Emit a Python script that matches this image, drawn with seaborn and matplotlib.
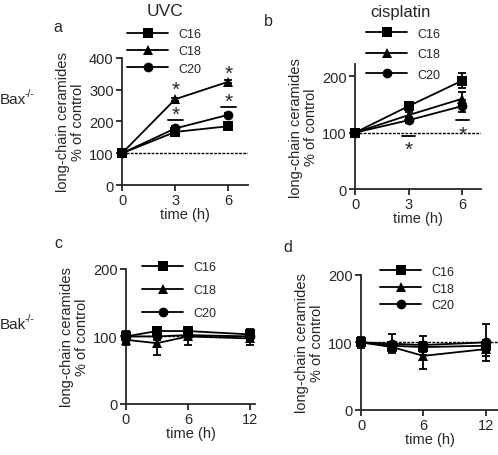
import pandas as pd
import matplotlib
matplotlib.use('Agg')
import matplotlib.pyplot as plt
import seaborn as sns

sns.set_style('ticks')
plt.rcParams['font.family'] = ['Liberation Sans', 'DejaVu Sans']
plt.rcParams['font.size'] = 10

chains = ['C16', 'C18', 'C20']
marker_map = {'C16': 's', 'C18': '^', 'C20': 'o'}

time_ab = [0, 3, 6]
time_cd = [0, 3, 6, 12]

# Bax-/- UVC
uvc_bax = {'C16': [100, 167, 185], 'C18': [100, 270, 325], 'C20': [100, 178, 221]}
uvc_bax_err = {'C16': [5, 12, 8], 'C18': [3, 5, 5], 'C20': [3, 8, 5]}
# Bax-/- cisplatin
cis_bax = {'C16': [100, 147, 192], 'C18': [100, 131, 160], 'C20': [100, 122, 147]}
cis_bax_err = {'C16': [3, 5, 13], 'C18': [3, 5, 12], 'C20': [3, 5, 11]}
# Bak-/- UVC
uvc_bak = {'C16': [100, 108, 108, 103], 'C18': [95, 90, 100, 97], 'C20': [100, 100, 102, 100]}
uvc_bak_err = {'C16': [8, 5, 5, 8], 'C18': [8, 17, 12, 10], 'C20': [5, 5, 8, 8]}
# Bak-/- cisplatin
cis_bak = {'C16': [100, 95, 93, 95], 'C18': [100, 93, 80, 90], 'C20': [100, 98, 96, 100]}
cis_bak_err = {'C16': [8, 6, 8, 8], 'C18': [5, 6, 20, 10], 'C20': [5, 14, 14, 27]}

# significance marks: (x, bar y or None, star y)
sig_a = [(3, None, 300), (3, 205, 222), (6, None, 352), (6, 245, 262)]
sig_b = [(3, 94, 70), (6, 122, 97)]

fig = plt.figure(figsize=(4.98, 4.56), dpi=100)


def panel(rect, times, vals, errs, xlim, ylim, yticks, xticks, leg_anchor, spacing, sig=None, width=0.43):
    ax = fig.add_axes(rect)
    rows = []
    for c in chains:
        for t, v in zip(times, vals[c]):
            rows.append({'time': t, 'value': v, 'chain': c})
    df = pd.DataFrame(rows)
    sns.lineplot(data=df, x='time', y='value', style='chain', markers=marker_map,
                 dashes=False, color='black', markersize=7, linewidth=1.3,
                 markeredgewidth=0, clip_on=False, ax=ax, zorder=3)
    for c in chains:
        ax.errorbar(times, vals[c], yerr=errs[c], fmt='none', ecolor='black',
                    elinewidth=1.3, capsize=3.2, capthick=1.3, clip_on=False, zorder=3)
    ax.axhline(100, color='black', lw=1.0, ls=(0, (2, 1)), zorder=2)
    ax.set_xlim(*xlim)
    ax.set_ylim(*ylim)
    ax.set_xticks(xticks)
    ax.set_yticks(yticks)
    ax.set_xlabel('time (h)', labelpad=0, fontsize=10.5)
    ax.set_ylabel('long-chain ceramides\n% of control', labelpad=3, fontsize=10.5,
                  linespacing=1.05)
    for s in ['top', 'right']:
        ax.spines[s].set_visible(False)
    for s in ['left', 'bottom']:
        ax.spines[s].set_linewidth(1.3)
    ax.tick_params(width=1.3, length=4, labelsize=10.5, pad=2)
    h, l = ax.get_legend_handles_labels()
    ax.legend(h, l, loc='upper left', bbox_to_anchor=leg_anchor,
              bbox_transform=fig.transFigure, frameon=False, fontsize=9,
              handlelength=3.3, handletextpad=0.8, labelspacing=spacing,
              borderpad=0, borderaxespad=0)
    if sig:
        for x, by, sy in sig:
            if by is not None:
                ax.plot([x - width, x + width], [by, by], color='black', lw=1.3, clip_on=False)
            ax.text(x, sy, '*', ha='center', va='center', fontsize=15)
    return ax


panel([0.245, 0.592, 0.253, 0.279], time_ab, uvc_bax, uvc_bax_err, (0, 7.1), (0, 400),
      [0, 100, 200, 300, 400], [0, 3, 6], (0.255, 0.936), 0.42, sig_a, 0.43)
panel([0.713, 0.583, 0.253, 0.274], time_ab, cis_bax, cis_bax_err, (0, 7.05), (0, 221),
      [0, 100, 200], [0, 3, 6], (0.735, 0.937), 0.68, sig_b, 0.36)
panel([0.253, 0.112, 0.259, 0.296], time_cd, uvc_bak, uvc_bak_err, (0, 12.5), (0, 200),
      [0, 100, 200], [0, 6, 12], (0.285, 0.425), 0.88)
panel([0.725, 0.099, 0.275, 0.296], time_cd, cis_bak, cis_bak_err, (0, 13.2), (0, 200),
      [0, 100, 200], [0, 6, 12], (0.763, 0.415), 0.38)

fig.text(165 / 498, 1 - 12 / 456, 'UVC', ha='center', va='center', fontsize=12.5)
fig.text(400 / 498, 1 - 12 / 456, 'cisplatin', ha='center', va='center', fontsize=12)
fig.text(58 / 498, 1 - 28 / 456, 'a', ha='center', va='center', fontsize=11.5)
fig.text(268 / 498, 1 - 22 / 456, 'b', ha='center', va='center', fontsize=11.5)
fig.text(58 / 498, 1 - 243 / 456, 'c', ha='center', va='center', fontsize=11.5)
fig.text(288 / 498, 1 - 248 / 456, 'd', ha='center', va='center', fontsize=11.5)
for label, ypix in [('Bax', 100), ('Bak', 325)]:
    t = fig.text(0.0, 1 - ypix / 456, label, ha='left', va='center', fontsize=11)
    fig.text(25 / 498, 1 - (ypix - 6) / 456, '-/-', ha='left', va='center', fontsize=7.5)

fig.savefig('out.png', dpi=100)
